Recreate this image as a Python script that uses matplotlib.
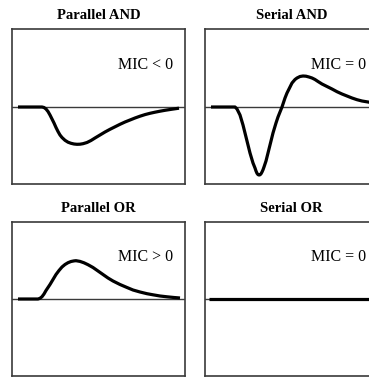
import matplotlib
matplotlib.use("Agg")
import matplotlib.pyplot as plt

# values: time (arbitrary units), response amplitude
titles = ["Parallel AND", "Serial AND", "Parallel OR", "Serial OR"]
mic_labels = ["MIC < 0", "MIC = 0", "MIC > 0", "MIC = 0"]

par_and_t = [6, 18, 30, 32, 34, 36, 38, 40, 42, 44, 46, 48, 50, 53, 56, 59, 62, 65, 68, 71, 75, 79,
             83, 88, 93, 98, 103, 108, 113, 118, 123, 128, 133, 138, 143, 148, 153, 160, 167]
par_and_y = [0, 0, 0, -0.5, -2, -4.5, -8, -12, -16, -20.5, -24.5, -28, -30.5, -33.3, -35.2, -36.3, -37, -37.3, -37.2, -36.7, -35.5, -33.5,
             -31, -28, -25, -22.3, -19.8, -17.3, -15, -13, -11, -9.2, -7.6, -6.3, -5.2, -4.2, -3.3, -2.2, -1.2]

ser_and_t = [6, 18, 30, 32, 35, 38, 40, 43, 45, 48, 50, 51, 52, 53, 54, 55, 56, 57, 58, 59, 61, 63, 66, 68, 71, 73, 77,
             80, 82, 85, 87, 90, 92, 95, 98, 101, 104, 107, 110, 113, 117, 122, 127, 132, 137, 142, 147, 152, 157, 163, 168, 173]
ser_and_y = [0, 0, 0, -2, -8, -18, -26, -38, -46, -56, -61, -64, -66.3, -67.6, -68, -67.8, -66.8, -65, -62.8, -60, -54, -46, -34, -26, -16, -10, 0,
             9, 14, 20, 24, 27.5, 29, 30.5, 31, 30.8, 30, 29, 27.5, 25.5, 23, 20.5, 18, 15.3, 13, 11, 9, 7.3, 6, 5, 4, 3]

par_or_t = [6, 18, 26, 28, 30, 32, 34, 36, 38, 41, 44, 47, 50, 53, 56, 59, 62, 64, 68, 72, 76, 81, 86,
            91, 96, 101, 108, 115, 121, 128, 135, 141, 148, 155, 162, 168]
par_or_y = [0, 0, 0, 0.7, 2.3, 5, 8.5, 11.5, 14.5, 19.5, 24.5, 28.5, 32, 34.5, 36.3, 37.5, 38.1, 38.3, 37.6, 36.2, 34.3, 31.5, 28,
            24.5, 21, 18, 14.5, 11.5, 9, 7, 5.3, 4.2, 3, 2.2, 1.5, 1]

ser_or_t = [4, 173]
ser_or_y = [0, 0]

curves = [(par_and_t, par_and_y), (ser_and_t, ser_and_y),
          (par_or_t, par_or_y), (ser_or_t, ser_or_y)]

plt.rcParams["font.family"] = ["Liberation Serif", "DejaVu Serif"]

fig = plt.figure(figsize=(3.69, 3.78), dpi=100)

W, H = 369.0, 378.0
# axes boxes in pixels: left, top, width, height
boxes = [(12, 29, 173, 155), (205, 29, 173, 155),
         (12, 222, 173, 154), (205, 222, 173, 154)]

for i, (bx, by, bw, bh) in enumerate(boxes):
    ax = fig.add_axes([bx / W, 1 - (by + bh) / H, bw / W, bh / H])
    t, y = curves[i]
    ax.axhline(0, color="#3a3a3a", lw=1.0, zorder=1)
    ax.plot(t, y, color="black", lw=2.3, solid_capstyle="butt",
            solid_joinstyle="round", zorder=2)
    ax.set_xlim(0, 173)
    if i < 2:
        ax.set_ylim(-77, 78)
    else:
        ax.set_ylim(-77, 77)
    ax.set_xticks([])
    ax.set_yticks([])
    for s in ax.spines.values():
        s.set_color("#3a3a3a")
        s.set_linewidth(1.2)
    ax.set_title(titles[i], fontsize=10.5, fontweight="bold", pad=7)
    ax.text(161 / 173, 0.77, mic_labels[i], transform=ax.transAxes,
            ha="right", va="center", fontsize=11.5)

fig.savefig("out.png", dpi=100)
